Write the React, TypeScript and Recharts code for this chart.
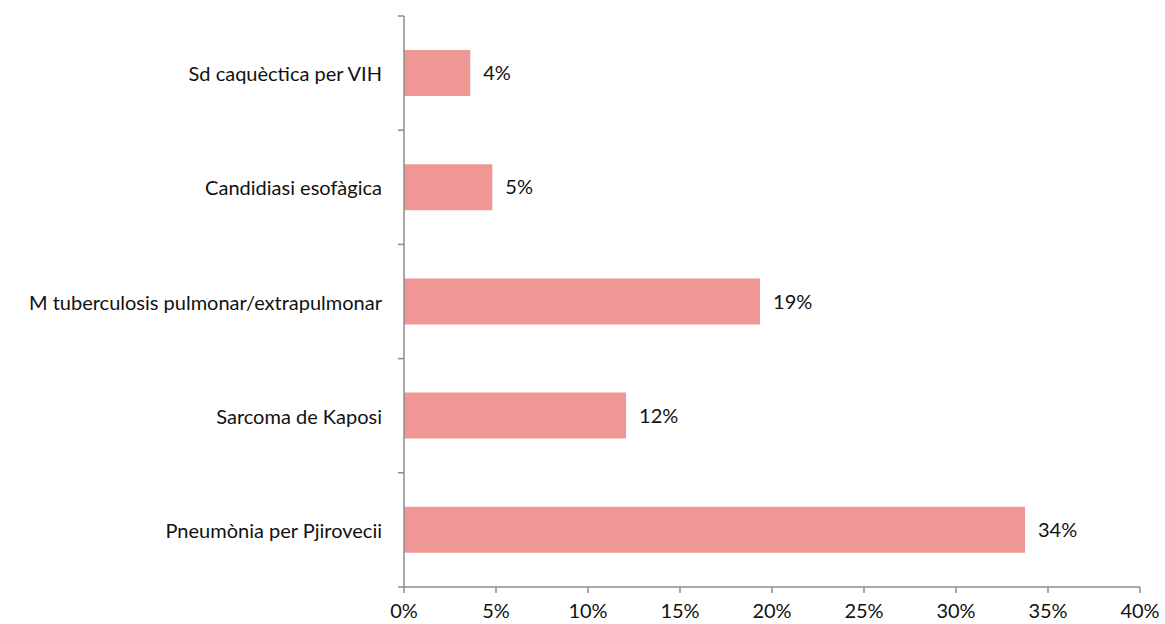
import React from "react";
import { BarChart, Bar, XAxis, YAxis, LabelList } from "recharts";

const categories = [
  "Sd caquèctica per VIH",
  "Candidiasi esofàgica",
  "M tuberculosis pulmonar/extrapulmonar",
  "Sarcoma de Kaposi",
  "Pneumònia per Pjirovecii",
];
const values = [0.036, 0.048, 0.1935, 0.1207, 0.3375];
const xTicks = [0, 0.05, 0.1, 0.15, 0.2, 0.25, 0.3, 0.35, 0.4];

const data = categories.map((c, i) => ({ name: c, value: values[i] }));

const FONT = "Lato, 'Open Sans', sans-serif";
const FS = 20;
const AXIS = "#8c8c8c";

const pct = (v: number) => `${Math.round(v * 100)}%`;

const CatTick = (props: any) => {
  const { x, y, payload, index, visibleTicksCount } = props;
  const off = payload.offset || 0;
  const axisX = x + 14;
  const isLast = index === visibleTicksCount - 1;
  return (
    <g>
      <line x1={axisX - 6} x2={axisX} y1={y - off} y2={y - off} stroke={AXIS} strokeWidth={1.5} />
      {isLast && (
        <line x1={axisX - 6} x2={axisX} y1={y + off} y2={y + off} stroke={AXIS} strokeWidth={1.5} />
      )}
      <text x={x - 8} y={y} textAnchor="end" dominantBaseline="central" fontFamily={FONT} fontSize={FS} fill="#111">
        {payload.value}
      </text>
    </g>
  );
};

export default function App() {
  return (
    <div style={{ width: 1165, height: 624 }}>
      <style>{`body{margin:0}`}</style>
      <BarChart
        width={1165}
        height={624}
        data={data}
        layout="vertical"
        margin={{ top: 16, right: 25, bottom: 7, left: 0 }}
      >
        <XAxis
          type="number"
          domain={[0, 0.4]}
          ticks={xTicks}
          tickFormatter={pct}
          axisLine={{ stroke: AXIS, strokeWidth: 1.5 }}
          tickLine={{ stroke: AXIS, strokeWidth: 1.5 }}
          tickSize={6}
          tickMargin={11}
          tick={{ fontFamily: FONT, fontSize: FS, fill: "#111" }}
          interval={0}
        />
        <YAxis
          type="category"
          dataKey="name"
          width={404}
          axisLine={{ stroke: AXIS, strokeWidth: 1.5 }}
          tickLine={false}
          tickSize={0}
          tickMargin={14}
          tick={<CatTick />}
          interval={0}
        />
        <Bar dataKey="value" fill="#EF9795" barSize={46} isAnimationActive={false}>
          <LabelList
            dataKey="value"
            position="right"
            offset={13}
            formatter={(v: any) => pct(Number(v))}
            style={{ fontFamily: FONT, fontSize: FS, fill: "#111" }}
          />
        </Bar>
      </BarChart>
    </div>
  );
}
